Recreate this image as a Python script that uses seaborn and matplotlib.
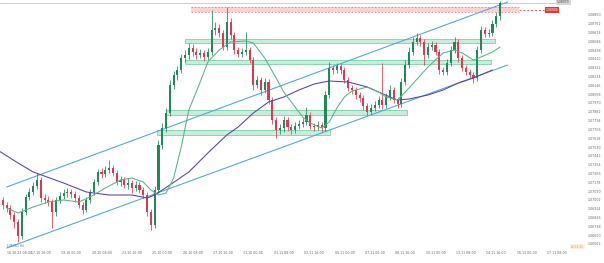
import matplotlib
matplotlib.use("Agg")
import matplotlib.pyplot as plt
from matplotlib.patches import Rectangle
import seaborn as sns
import numpy as np

# ---------------- data ----------------
first_open = 1.0700
closes = [1.0695, 1.0692, 1.0685, 1.0678, 1.0664, 1.0688, 1.0703, 1.0708, 1.0714, 1.0720,
          1.0702, 1.0700, 1.0698, 1.0688, 1.0700, 1.0704, 1.0707, 1.0708, 1.0706, 1.0702,
          1.0695, 1.0690, 1.0700, 1.0708, 1.0718, 1.0728, 1.0726, 1.0730, 1.0732, 1.0727,
          1.0718, 1.0720, 1.0715, 1.0717, 1.0712, 1.0715, 1.0710, 1.0705, 1.0688, 1.0675,
          1.0710, 1.0755, 1.0772, 1.0787, 1.0815, 1.0825, 1.0830, 1.0842, 1.0845, 1.0852,
          1.0848, 1.0845, 1.0847, 1.0843, 1.0848, 1.0870, 1.0872, 1.0867, 1.0853, 1.0878,
          1.0865, 1.0850, 1.0846, 1.0848, 1.0850, 1.0840, 1.0815, 1.0820, 1.0810, 1.0818,
          1.0800, 1.0780, 1.0770, 1.0772, 1.0780, 1.0773, 1.0770, 1.0774, 1.0776, 1.0778,
          1.0785, 1.0774, 1.0773, 1.0775, 1.0772, 1.0805, 1.0832, 1.0830, 1.0834, 1.0830,
          1.0820, 1.0812, 1.0810, 1.0805, 1.0802, 1.0794, 1.0788, 1.0792, 1.0795, 1.0800,
          1.0795, 1.0803, 1.0810, 1.0800, 1.0796, 1.0818, 1.0835, 1.0848, 1.0858, 1.0862,
          1.0858, 1.0845, 1.0853, 1.0855, 1.0848, 1.0830, 1.0828, 1.0837, 1.0850, 1.0858,
          1.0842, 1.0832, 1.0828, 1.0825, 1.0822, 1.0850, 1.0870, 1.0866, 1.0867, 1.0876,
          1.0884, 1.0897]
highs = [1.0703, 1.0698, 1.0695, 1.0688, 1.0681, 1.0692, 1.0706, 1.0712, 1.0718, 1.0727,
         1.0723, 1.0706, 1.0704, 1.0701, 1.0703, 1.0708, 1.0711, 1.0712, 1.0711, 1.0709,
         1.0705, 1.0698, 1.0703, 1.0711, 1.0721, 1.0731, 1.0732, 1.0734, 1.0740, 1.0735,
         1.0730, 1.0724, 1.0723, 1.0722, 1.0720, 1.0719, 1.0718, 1.0713, 1.0708, 1.0691,
         1.0714, 1.0760, 1.0777, 1.0792, 1.0820, 1.0829, 1.0834, 1.0846, 1.0850, 1.0857,
         1.0856, 1.0852, 1.0851, 1.0850, 1.0852, 1.0890, 1.0878, 1.0876, 1.0870, 1.0893,
         1.0882, 1.0868, 1.0853, 1.0852, 1.0868, 1.0853, 1.0843, 1.0824, 1.0823, 1.0822,
         1.0821, 1.0803, 1.0783, 1.0776, 1.0784, 1.0783, 1.0776, 1.0778, 1.0780, 1.0782,
         1.0793, 1.0788, 1.0777, 1.0779, 1.0778, 1.0809, 1.0838, 1.0835, 1.0837, 1.0836,
         1.0833, 1.0823, 1.0815, 1.0813, 1.0808, 1.0805, 1.0797, 1.0796, 1.0799, 1.0804,
         1.0837, 1.0807, 1.0815, 1.0813, 1.0803, 1.0822, 1.0840, 1.0853, 1.0863, 1.0867,
         1.0865, 1.0861, 1.0857, 1.0859, 1.0858, 1.0851, 1.0833, 1.0841, 1.0854, 1.0863,
         1.0861, 1.0845, 1.0835, 1.0831, 1.0828, 1.0854, 1.0874, 1.0873, 1.0871, 1.0880,
         1.0888, 1.0899]
lows = [1.0691, 1.0688, 1.0681, 1.0672, 1.0658, 1.0661, 1.0685, 1.0700, 1.0705, 1.0711,
        1.0698, 1.0697, 1.0694, 1.0672, 1.0684, 1.0697, 1.0701, 1.0703, 1.0702, 1.0698,
        1.0692, 1.0686, 1.0688, 1.0697, 1.0705, 1.0715, 1.0722, 1.0723, 1.0727, 1.0724,
        1.0715, 1.0714, 1.0712, 1.0711, 1.0707, 1.0709, 1.0707, 1.0702, 1.0684, 1.0670,
        1.0672, 1.0707, 1.0751, 1.0768, 1.0784, 1.0811, 1.0820, 1.0827, 1.0838, 1.0841,
        1.0844, 1.0841, 1.0842, 1.0839, 1.0840, 1.0845, 1.0865, 1.0863, 1.0850, 1.0850,
        1.0861, 1.0846, 1.0843, 1.0843, 1.0845, 1.0837, 1.0810, 1.0812, 1.0805, 1.0807,
        1.0796, 1.0776, 1.0762, 1.0766, 1.0768, 1.0769, 1.0766, 1.0767, 1.0771, 1.0773,
        1.0775, 1.0771, 1.0769, 1.0770, 1.0768, 1.0769, 1.0802, 1.0826, 1.0827, 1.0826,
        1.0817, 1.0809, 1.0806, 1.0801, 1.0798, 1.0790, 1.0785, 1.0786, 1.0789, 1.0792,
        1.0791, 1.0792, 1.0800, 1.0797, 1.0792, 1.0793, 1.0815, 1.0832, 1.0845, 1.0855,
        1.0854, 1.0835, 1.0842, 1.0850, 1.0845, 1.0826, 1.0825, 1.0825, 1.0834, 1.0847,
        1.0838, 1.0829, 1.0825, 1.0822, 1.0817, 1.0819, 1.0847, 1.0863, 1.0863, 1.0864,
        1.0873, 1.0880]

# moving averages (bar index, price)
ma_fast_idx = [1, 4, 8, 12, 16, 20, 23, 27, 31, 34, 37, 39, 41, 43, 45, 47, 49, 52, 54, 57,
               60, 64, 66, 69, 72, 74, 77, 79, 81, 84, 86, 88, 90, 92, 96, 99, 101, 104, 107,
               112, 116, 119, 121, 124, 126, 129, 131]
ma_fast_val = [1.0692, 1.0687, 1.0693, 1.0698, 1.0700, 1.0698, 1.0703, 1.0712, 1.0720, 1.0722,
               1.0718, 1.0710, 1.0705, 1.0707, 1.0722, 1.0753, 1.0790, 1.0818, 1.0838, 1.0850,
               1.0858, 1.0859, 1.0857, 1.0842, 1.0822, 1.0808, 1.0793, 1.0783, 1.0777, 1.0772,
               1.0778, 1.0792, 1.0803, 1.0809, 1.0813, 1.0808, 1.0803, 1.0800, 1.0812, 1.0833,
               1.0847, 1.0850, 1.0847, 1.0840, 1.0843, 1.0848, 1.0853]
ma_slow_idx = [-1, 4, 8, 16, 22, 28, 34, 38, 40, 44, 49, 54, 59, 62, 66, 70, 74, 78, 82, 86,
               91, 96, 99, 102, 104, 107, 112, 116, 120, 124, 129]
ma_slow_val = [1.0749, 1.0737, 1.0728, 1.0717, 1.0708, 1.0705, 1.0705, 1.0702, 1.0705, 1.0715,
               1.0728, 1.0747, 1.0765, 1.0773, 1.0787, 1.0798, 1.0803, 1.0810, 1.0816, 1.0819,
               1.0818, 1.0813, 1.0808, 1.0803, 1.0800, 1.0801, 1.0805, 1.0810, 1.0817, 1.0822,
               1.0830]

# trend channel
chan_idx = [1, 133]
chan_upper = [1.0713, 1.0898]
chan_lower = [1.0652, 1.0835]

# support / resistance zones
zone_lo = [1.0857, 1.0836, 1.0785, 1.0765]
zone_hi = [1.0861, 1.0840, 1.0790, 1.0770]
zone_from = [48, 48, 43, 40.5]
zone_to = [129.75, 128.5, 106.5, 86.25]
res_lo, res_hi, res_from, res_to = 1.0888, 1.0893, 49.5, 136
res_level = 1.0890
res_label = "1.08904"
last_label = "1.08970"

price_ticks = [1.08850, 1.08762, 1.08674, 1.08586, 1.08498, 1.08410, 1.08322, 1.08234,
               1.08146, 1.08058, 1.07970, 1.07882, 1.07794, 1.07706, 1.07618, 1.07530,
               1.07442, 1.07354, 1.07266, 1.07178, 1.07090, 1.07002, 1.06914, 1.06826,
               1.06738, 1.06650, 1.06562]
price_labels = ["1.08850", "1.08762", "1.08674", "1.08586", "1.08498", "1.08410", "1.08322",
                "1.08234", "1.08146", "1.08058", "1.07970", "1.07882", "1.07794", "1.07706",
                "1.07618", "1.07530", "1.07442", "1.07354", "1.07266", "1.07178", "1.07090",
                "1.07002", "1.06914", "1.06826", "1.06738", "1.06650", "1.06562"]
date_idx = [1, 10, 18, 26, 34, 42, 50, 58, 66, 74, 82, 90, 98, 106, 114, 122, 130, 138, 146]
date_labels = ["16.10.23 08:00", "17.10 16:00", "19.10 00:00", "20.10 08:00", "23.10 16:00",
               "25.10 00:00", "26.10 08:00", "27.10 16:00", "31.10 00:00", "01.11 08:00",
               "02.11 16:00", "06.11 00:00", "07.11 08:00", "08.11 16:00", "10.11 00:00",
               "13.11 08:00", "14.11 16:00", "16.11 00:00", "17.11 08:00"]

# ---------------- drawing ----------------
sns.set_theme(style="white")
plt.rcParams['font.family'] = ['DejaVu Sans']

W, H = 604, 263
fig = plt.figure(figsize=(W / 100, H / 100), dpi=100)
ax_bottom_px = 249
ax = fig.add_axes([0, 1 - ax_bottom_px / H, 557 / W, ax_bottom_px / H])
ax.set_xlim(-0.75, 138.5)
ax.set_ylim(1.0900 - ax_bottom_px / 10000, 1.0900)

c = np.array(closes)
o = np.array([first_open] + closes[:-1])
hi = np.array(highs)
lo = np.array(lows)
idx = np.arange(len(c))
up = c >= o
cols = np.where(up, '#23875a', '#dc3a52')

# zones
for zl, zh, zf, zt in zip(zone_lo, zone_hi, zone_from, zone_to):
    ax.add_patch(Rectangle((zf, zl), zt - zf, zh - zl, facecolor='#c8eedb',
                           edgecolor='#7dd0a6', lw=0.6, zorder=1))
ax.add_patch(Rectangle((res_from, res_lo), res_to - res_from, res_hi - res_lo,
                       facecolor='#fcd3d3', edgecolor='none', zorder=1))
ax.plot([res_from, res_to], [res_hi, res_hi], color='#ee8080', lw=0.6, ls=(0, (2, 2)), zorder=1)
ax.plot([res_from, res_to], [res_lo, res_lo], color='#ee8080', lw=0.6, ls=(0, (2, 2)), zorder=1)
ax.plot([res_to, 143.0], [res_level, res_level], color='#e45757', lw=0.7,
        ls=(0, (2, 2)), zorder=2, clip_on=False)
ax.text(143.0, res_level, res_label, fontsize=2.2, color='white', va='center', ha='left',
        bbox=dict(boxstyle='square,pad=0.35', fc='#e53935', ec='none'), clip_on=False)

# last price line
ax.axhline(closes[-1], color='#cfcfcf', lw=0.7, zorder=1)
ax.text(146.0, 1.08985, last_label, fontsize=2.2, color='#444444', va='center', ha='left',
        bbox=dict(boxstyle='square,pad=0.35', fc='#d8d8d8', ec='none'), clip_on=False)

# channel
sns.lineplot(x=chan_idx, y=chan_upper, ax=ax, color='#4aa6da', lw=0.75, zorder=2)
sns.lineplot(x=chan_idx, y=chan_lower, ax=ax, color='#4aa6da', lw=0.75, zorder=2)

# moving averages
sns.lineplot(x=ma_slow_idx, y=ma_slow_val, ax=ax, color='#5b3fa3', lw=0.75, zorder=4)
sns.lineplot(x=ma_fast_idx, y=ma_fast_val, ax=ax, color='#55b584', lw=0.75, zorder=4)

# candles
ax.vlines(idx, lo, hi, colors=cols, lw=0.55, zorder=3)
body = np.maximum(np.abs(c - o), 0.00008)
ax.bar(idx, body, bottom=np.minimum(o, c), width=0.55, color=cols, linewidth=0, zorder=3)

# axes styling
for s in ax.spines.values():
    s.set_visible(False)
ax.yaxis.tick_right()
ax.set_yticks(price_ticks, price_labels)
ax.tick_params(axis='y', length=0, pad=22, labelsize=2.3, labelcolor='#666666')
ax.set_xticks(date_idx, date_labels)
ax.tick_params(axis='x', length=0, pad=1.5, labelsize=2.3, labelcolor='#666666')
xtl = ax.get_xticklabels()
xtl[0].set_ha('left')
for t in xtl:
    t.set_clip_on(False)
ax.set_xlabel('')
ax.set_ylabel('')

fig.text(7 / W, 1 - 246 / H, "EURUSD, H4", fontsize=2, color='#4a7fb0', va='center', ha='left')
fig.text(571 / W, 1 - 246.5 / H, "02:14:35", fontsize=2.1, color='#f09a3e', va='center',
         ha='left', bbox=dict(boxstyle='square,pad=0.3', fc='#fdf0e0', ec='none'))

fig.savefig('out.png', dpi=100)
